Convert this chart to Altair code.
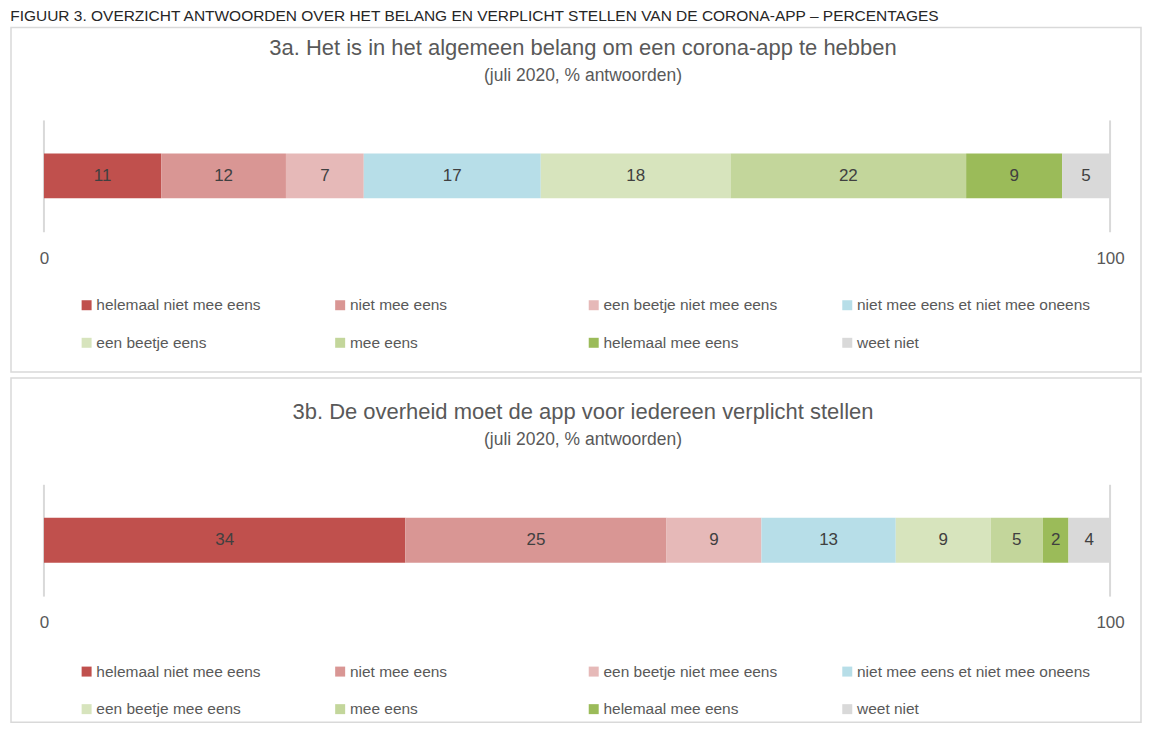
import altair as alt
import pandas as pd

header = "FIGUUR 3. OVERZICHT ANTWOORDEN OVER HET BELANG EN VERPLICHT STELLEN VAN DE CORONA-APP – PERCENTAGES"
title_a = "3a. Het is in het algemeen belang om een corona-app te hebben"
title_b = "3b. De overheid moet de app voor iedereen verplicht stellen"
subtitle = "(juli 2020, % antwoorden)"

cats_a = ["helemaal niet mee eens", "niet mee eens", "een beetje niet mee eens",
          "niet mee eens et niet mee oneens", "een beetje eens", "mee eens",
          "helemaal mee eens", "weet niet"]
cats_b = ["helemaal niet mee eens", "niet mee eens", "een beetje niet mee eens",
          "niet mee eens et niet mee oneens", "een beetje mee eens", "mee eens",
          "helemaal mee eens", "weet niet"]

# segment widths (percent) and the printed labels
shares_a = [11.0, 11.7, 7.3, 16.6, 17.8, 22.1, 9.0, 4.5]
labels_a = [11, 12, 7, 17, 18, 22, 9, 5]
shares_b = [33.9, 24.5, 8.9, 12.6, 8.9, 4.9, 2.4, 3.9]
labels_b = [34, 25, 9, 13, 9, 5, 2, 4]

colors = ["#C0504D", "#D99694", "#E6B9B8", "#B7DEE8",
          "#D7E4BD", "#C3D69B", "#9BBB59", "#D9D9D9"]
ticks = [0, 100]

FONT = "Liberation Sans Narrow, Arial Narrow, Liberation Sans, sans-serif"
TXT = "#595959"
PANEL_W = 1132


def make_panel(cats, shares, labels, title, shift, legend_shift, height):
    # layout positions below are page positions of the first panel, minus shift
    df = pd.DataFrame({"cat": cats, "share": shares, "label": labels,
                       "order": list(range(len(cats))), "q": "q"})
    xscale = alt.Scale(domain=[0, 100], range=[33, 1101], nice=False, zero=False)
    yscale = alt.Scale(domain=["q"], range=[153 - shift, 198 - shift],
                       paddingInner=0, paddingOuter=0)
    base = alt.Chart(df).transform_stack(
        stack="share", groupby=["q"], as_=["x0", "x1"],
        sort=[alt.SortField("order", order="ascending")]
    ).transform_calculate(mid="(datum.x0 + datum.x1) / 2")

    bars = base.mark_bar().encode(
        x=alt.X("x0:Q", scale=xscale, title=None,
                axis=alt.Axis(values=ticks, grid=False, domain=False, ticks=False,
                              labelFontSize=17, labelColor=TXT, labelFont=FONT,
                              labelBaseline="middle", labelPadding=0,
                              labelFlush=False, labelOverlap=False,
                              offset=(258 - shift) - height)),
        x2="x1:Q",
        y=alt.Y("q:N", scale=yscale, axis=None),
        color=alt.Color("cat:N", scale=alt.Scale(domain=cats, range=colors),
                        sort=cats,
                        legend=alt.Legend(orient="none", direction="horizontal",
                                          legendX=68, legendY=297 - legend_shift,
                                          columns=4, gridAlign="all", columnPadding=2,
                                          rowPadding=21, symbolType="square",
                                          symbolSize=100, symbolStrokeWidth=0,
                                          labelFontSize=15.5, labelFont=FONT,
                                          labelColor=TXT, labelOffset=2, title=None,
                                          padding=0, labelLimit=400)),
    )
    text = base.mark_text(fontSize=17, font=FONT, color="#404040").encode(
        x=alt.X("mid:Q", scale=xscale),
        y=alt.Y("q:N", scale=yscale),
        text="label:N",
    )
    rules = alt.Chart(pd.DataFrame({"t": ticks})).mark_rule(
        color="#d9d9d9", strokeWidth=2
    ).encode(
        x=alt.X("t:Q", scale=xscale),
        y=alt.value(120 - shift),
        y2=alt.value(232 - shift),
    )
    return alt.layer(rules, bars, text).properties(
        width=PANEL_W, height=height,
        title=alt.TitleParams(text=title, subtitle=subtitle, anchor="middle",
                              offset=-(85 - shift), dx=7, fontSize=22,
                              fontWeight="normal", font=FONT, color=TXT,
                              subtitleFontSize=17.5, subtitleFont=FONT,
                              subtitleColor=TXT, subtitlePadding=7),
    )


T1 = 27
H1 = 372 - T1
H2 = 345

p1 = make_panel(cats_a, shares_a, labels_a, title_a, T1, T1, H1)
p2 = make_panel(cats_b, shares_b, labels_b, title_b, 13, 11, H2)

chart = alt.vconcat(p1, p2, spacing=4).resolve_scale(
    color="independent", x="independent", y="independent"
).resolve_legend(color="independent").properties(
    title=alt.TitleParams(text=header, anchor="start", fontSize=15.5, font=FONT,
                          fontWeight="normal", color="#262626", offset=2),
    padding={"left": 2, "top": 0, "right": 0, "bottom": 0},
).configure_view(stroke="#d9d9d9", strokeWidth=1.5)

chart.save("out.html", embed_options={"renderer": "svg", "actions": False})
